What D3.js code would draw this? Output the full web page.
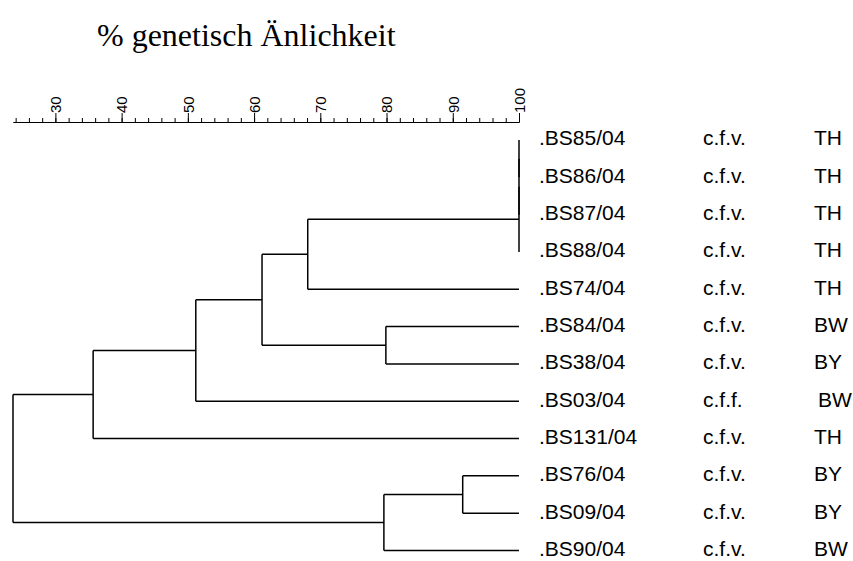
<!DOCTYPE html>
<html>
<head>
<meta charset="utf-8">
<script src="https://cdn.jsdelivr.net/npm/d3@7"></script>
<style>
  body { margin: 0; background: #fff; }
  svg { display: block; }
  .title { font-family: "Liberation Serif", "Times New Roman", serif; font-size: 32px; fill: #000; }
  .axis text { font-family: "Liberation Sans", Arial, sans-serif; font-size: 15px; fill: #000; }
  .axis line, .axis path { stroke: #000; stroke-width: 1; }
  .leaf { font-family: "Liberation Sans", Arial, sans-serif; font-size: 21px; fill: #000; }
  .link { stroke: #000; stroke-width: 1.5; fill: none; }
</style>
</head>
<body>
<div id="chart"></div>
<script>
// isolates, top to bottom
var leafNames = [".BS85/04", ".BS86/04", ".BS87/04", ".BS88/04", ".BS74/04", ".BS84/04",
                 ".BS38/04", ".BS03/04", ".BS131/04", ".BS76/04", ".BS09/04", ".BS90/04"];
var leafTypes = ["c.f.v.", "c.f.v.", "c.f.v.", "c.f.v.", "c.f.v.", "c.f.v.",
                 "c.f.v.", "c.f.f.", "c.f.v.", "c.f.v.", "c.f.v.", "c.f.v."];
var leafRegions = ["TH", "TH", "TH", "TH", "TH", "BW", "BY", "BW", "TH", "BY", "BY", "BW"];

// linkage: cluster 12+i joins mergeA[i] and mergeB[i] at mergeSim[i] (% similarity)
var mergeA   = [0,   12,  13,  14,   5,    15,   17,   18,   9,    20,   19];
var mergeB   = [1,   2,   3,   4,    6,    16,   7,    8,    10,   11,   21];
var mergeSim = [100, 100, 100, 68.1, 79.9, 61.2, 51.2, 35.7, 91.5, 79.6, 23.6];

var majorTicks = [30, 40, 50, 60, 70, 80, 90, 100];
var minorTicks = d3.range(24, 100, 2);
var titleText = "% genetisch Änlichkeit";

var width = 853, height = 561;
var axisY = 122;

var svg = d3.select("#chart").append("svg")
    .attr("width", width)
    .attr("height", height);

var x = d3.scaleLinear()
    .domain([23.6, 100])
    .range([13, 519]);

var y = d3.scalePoint()
    .domain(leafNames)
    .range([140, 550.5]);

// build nested tree from linkage
var nodes = leafNames.map((name, i) => ({name: name, index: i, sim: 100}));
mergeA.forEach((a, i) => {
    nodes.push({name: "n" + (12 + i), sim: mergeSim[i], children: [nodes[a], nodes[mergeB[i]]]});
});
var root = d3.hierarchy(nodes[nodes.length - 1]);

root.eachAfter(d => {
    d.px = x(d.data.sim);
    if (d.children) d.py = d3.mean(d.children, c => c.py);
    else d.py = y(d.data.name);
});

svg.append("text")
    .attr("class", "title")
    .attr("x", 97)
    .attr("y", 46)
    .text(titleText);

// minor ticks
svg.append("g")
    .attr("class", "axis")
    .attr("transform", `translate(0, ${axisY})`)
    .call(d3.axisTop(x).tickValues(minorTicks).tickSize(4).tickSizeOuter(0).tickFormat(""));

// major ticks
svg.append("g")
    .attr("class", "axis")
    .attr("transform", `translate(0, ${axisY})`)
    .call(d3.axisTop(x).tickValues(majorTicks).tickSize(9).tickSizeOuter(0).tickFormat(d3.format("d")))
    .selectAll("text")
    .attr("transform", "rotate(-90)")
    .attr("x", 9)
    .attr("y", 0)
    .attr("dy", "0.35em")
    .style("text-anchor", "start");

// elbow links
var inner = root.descendants().filter(d => d.children);
var g = svg.append("g");

inner.forEach(d => {
    var ys = d.children.map(c => c.py);
    g.append("line")
        .attr("class", "link")
        .attr("x1", d.px).attr("x2", d.px)
        .attr("y1", d3.min(ys)).attr("y2", d3.max(ys));
    d.children.forEach(c => {
        if (Math.abs(c.px - d.px) < 0.5) return;
        g.append("line")
            .attr("class", "link")
            .attr("x1", d.px).attr("x2", c.px)
            .attr("y1", c.py).attr("y2", c.py);
    });
});

// leaf labels
var leaves = svg.selectAll("g.leafrow")
    .data(leafNames)
    .enter()
    .append("g")
    .attr("class", "leafrow")
    .attr("transform", d => `translate(0, ${y(d) - 2})`);

leaves.append("text").attr("class", "leaf")
    .attr("x", 539).attr("dy", "0.35em")
    .text(d => d);

leaves.append("text").attr("class", "leaf")
    .attr("x", 703).attr("dy", "0.35em")
    .text((d, i) => leafTypes[i]);

leaves.append("text").attr("class", "leaf")
    .attr("x", (d, i) => leafTypes[i] === "c.f.f." ? 818 : 814)
    .attr("dy", "0.35em")
    .text((d, i) => leafRegions[i]);
</script>
</body>
</html>
